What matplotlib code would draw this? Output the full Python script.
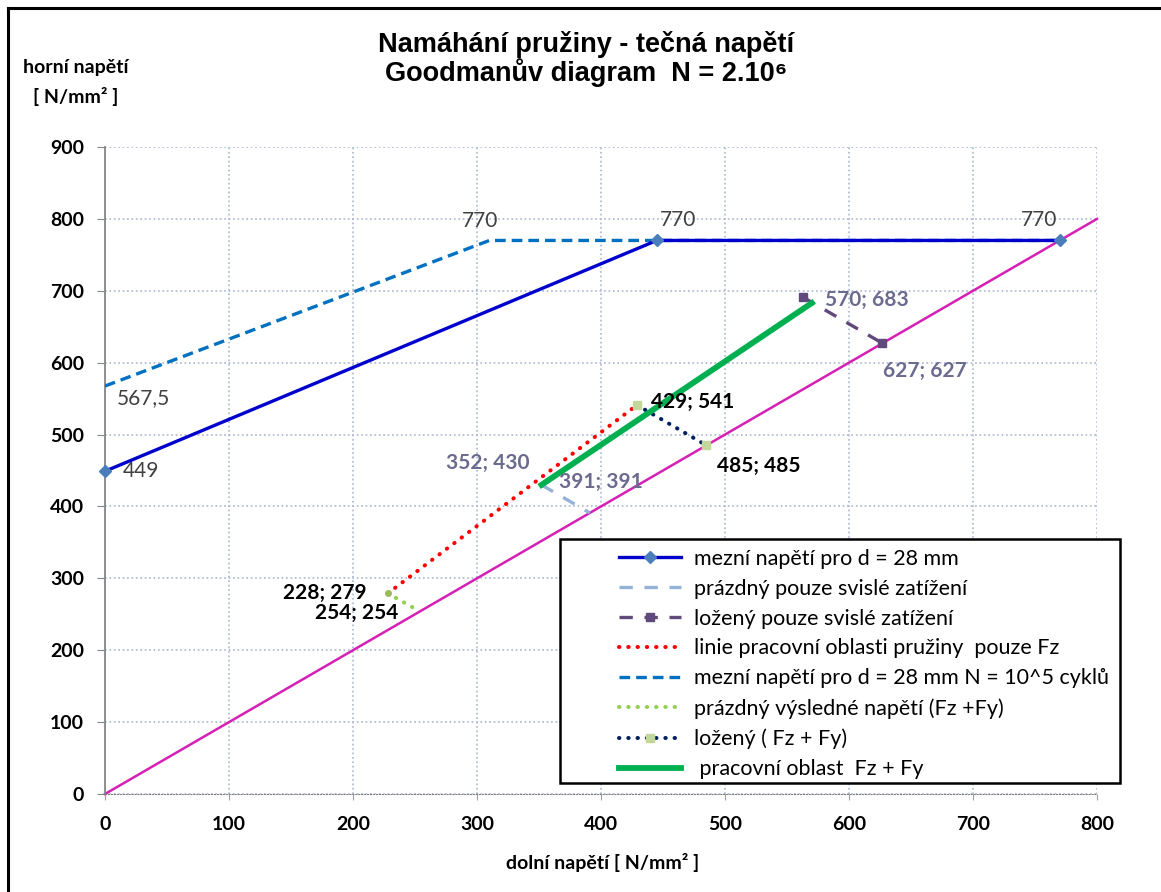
import matplotlib
matplotlib.use("Agg")
import matplotlib.pyplot as plt
from matplotlib.lines import Line2D
from matplotlib.patches import Rectangle

# Series values (dolní napětí, horní napětí) in N/mm^2
limit_x = [0, 445, 770]
limit_y = [449, 770, 770]

limit5_x = [0, 310, 770]
limit5_y = [567.5, 770, 770]

empty_vert_x = [352, 391]
empty_vert_y = [430, 391]

loaded_vert_x = [563, 627]
loaded_vert_y = [691, 627]

fz_line_x = [228, 429]
fz_line_y = [279, 541]

empty_res_x = [228, 254]
empty_res_y = [279, 254]

loaded_res_x = [429, 485]
loaded_res_y = [541, 485]

work_x = [352, 570]
work_y = [430, 683]

diag_x = [0, 800]
diag_y = [0, 800]

x_ticks = list(range(0, 801, 100))
y_ticks = list(range(0, 901, 100))

FONT = ['Lato', 'DejaVu Sans']
TITLE_FONT = ['Liberation Sans', 'DejaVu Sans']

fig = plt.figure(figsize=(11.61, 8.92), dpi=100)
W, H = 1161, 892


def fx(px):
    return px / W


def fy(py):
    return 1 - py / H


ax = fig.add_axes([fx(105), fy(794), fx(1097) - fx(105), fy(147) - fy(794)])
ax.set_xlim(0, 800)
ax.set_ylim(0, 900)
ax.set_xticks(x_ticks)
ax.set_yticks(y_ticks)
ax.grid(True, color='#a9b6cf', linestyle=':', linewidth=1.2)
ax.set_axisbelow(True)
for s in ['top', 'right']:
    ax.spines[s].set_visible(False)
ax.spines['left'].set_color('#868686')
ax.spines['left'].set_linewidth(1.3)
ax.spines['bottom'].set_color('#7f7f7f')
ax.spines['bottom'].set_linestyle(':')
ax.tick_params(axis='y', length=6, color='#868686', pad=9)
ax.tick_params(axis='x', length=4, color='#a0a0a0', pad=12)
for lab in ax.get_xticklabels() + ax.get_yticklabels():
    lab.set_fontfamily(FONT)
    lab.set_fontweight('bold')
    lab.set_fontsize(14)

# 45 degree line
ax.plot(diag_x, diag_y, color='#d61fb4', linewidth=1.8, zorder=2, clip_on=False)

dotted = (0, (0.1, 2.2))
h_limit5, = ax.plot(limit5_x, limit5_y, color='#0070c0', linewidth=2.4,
                    dashes=(3.2, 1.8), zorder=3)
h_limit, = ax.plot(limit_x, limit_y, color='#0000cc', linewidth=2.4,
                   marker='D', markersize=6.5, markerfacecolor='#4a7ebb',
                   markeredgecolor='#4a7ebb', zorder=4, clip_on=False)
h_empty_v, = ax.plot(empty_vert_x, empty_vert_y, color='#95b3d7', linewidth=2.4,
                     dashes=(4, 3.5), zorder=3)
h_loaded_v, = ax.plot(loaded_vert_x, loaded_vert_y, color='#604a7b', linewidth=2.4,
                      dashes=(4, 3.5), marker='s', markersize=6,
                      markerfacecolor='#604a7b', markeredgecolor='#604a7b', zorder=3)
h_fz, = ax.plot(fz_line_x, fz_line_y, color='#ff0000', linewidth=2.9,
                linestyle=dotted, dash_capstyle='round', zorder=3)
h_empty_r, = ax.plot(empty_res_x, empty_res_y, color='#92d050', linewidth=2.9,
                     linestyle=dotted, dash_capstyle='round', zorder=3)
h_loaded_r, = ax.plot(loaded_res_x, loaded_res_y, color='#002060', linewidth=2.9,
                      linestyle=dotted, dash_capstyle='round',
                      marker='s', markersize=6, markerfacecolor='#c3d69b',
                      markeredgecolor='#c3d69b', zorder=3)
h_work, = ax.plot(work_x, work_y, color='#00b050', linewidth=4.2, zorder=5)
ax.plot([empty_res_x[0]], [empty_res_y[0]], 'o', color='#9bbb59',
        markersize=4, zorder=4)

# data labels
plain = dict(fontfamily=FONT, fontsize=15, color='#404040')
slate = dict(fontfamily=FONT, fontsize=15, color='#6b6b8f', fontweight='bold')
dark = dict(fontfamily=FONT, fontsize=15, color='#000000', fontweight='bold')


def label(text, xy, off, ha, va, style):
    ax.annotate(text, xy=xy, xytext=(off[0] * 0.72, off[1] * 0.72),
                textcoords='offset points', ha=ha, va=va, zorder=6, **style)


label('770', (limit5_x[1], limit5_y[1]), (-9, 19), 'center', 'center', plain)
label('770', (limit_x[1], limit_y[1]), (21, 20), 'center', 'center', plain)
label('770', (limit_x[2], limit_y[2]), (-21, 20), 'center', 'center', plain)
label('567,5', (limit5_x[0], limit5_y[0]), (12, -12), 'left', 'center', plain)
label('449', (limit_x[0], limit_y[0]), (18, 0), 'left', 'center', plain)
label('352; 430', (empty_vert_x[0], empty_vert_y[0]), (-12, 22), 'right', 'center', slate)
label('391; 391', (empty_vert_x[1], empty_vert_y[1]), (-31, 31), 'left', 'center', slate)
label('570; 683', (work_x[1], work_y[1]), (13, 3), 'left', 'center', slate)
label('627; 627', (loaded_vert_x[1], loaded_vert_y[1]), (1, -28), 'left', 'center', slate)
label('429; 541', (loaded_res_x[0], loaded_res_y[0]), (14, 3), 'left', 'center', dark)
label('485; 485', (loaded_res_x[1], loaded_res_y[1]), (11, -21), 'left', 'center', dark)
label('228; 279', (empty_res_x[0], empty_res_y[0]), (-21, 0), 'right', 'center', dark)
label('254; 254', (empty_res_x[1], empty_res_y[1]), (-22, -2), 'right', 'center', dark)

# legend box and entries
fig.patches.append(Rectangle((fx(560), fy(783)), fx(1120) - fx(560), fy(539) - fy(783),
                             transform=fig.transFigure, facecolor='white',
                             edgecolor='black', linewidth=1.8, zorder=10))
handles = [h_limit, h_empty_v, h_loaded_v, h_fz, h_limit5, h_empty_r, h_loaded_r, h_work]
labels = ['mezní napětí pro d = 28 mm',
          'prázdný pouze svislé zatížení',
          'ložený pouze svislé zatížení',
          'linie pracovní oblasti pružiny  pouze Fz',
          'mezní napětí pro d = 28 mm N = 10^5 cyklů',
          'prázdný výsledné napětí (Fz +Fy)',
          'ložený ( Fz + Fy)',
          ' pracovní oblast  Fz + Fy']
leg = fig.legend(handles, labels, loc='upper left',
                 bbox_to_anchor=(fx(608), fy(538)), frameon=False,
                 prop={'family': FONT, 'size': 15.5}, handlelength=2.9,
                 handletextpad=0.6, labelspacing=0.46, borderpad=0)
leg.set_zorder(11)

# titles and axis labels
fig.text(fx(586), fy(45), 'Namáhání pružiny - tečná napětí', ha='center', va='center',
         fontfamily=TITLE_FONT, fontweight='bold', fontsize=19.5)
fig.text(fx(586), fy(73), 'Goodmanův diagram  N = 2.10⁶', ha='center', va='center',
         fontfamily=TITLE_FONT, fontweight='bold', fontsize=19.5)
fig.text(fx(76), fy(68), 'horní napětí', ha='center', va='center',
         fontfamily=FONT, fontweight='bold', fontsize=14)
fig.text(fx(76), fy(97), '[ N/mm² ]', ha='center', va='center',
         fontfamily=FONT, fontweight='bold', fontsize=14)
fig.text(fx(603), fy(862), 'dolní napětí [ N/mm² ]', ha='center', va='center',
         fontfamily=FONT, fontweight='bold', fontsize=14)

# outer frame
fig.add_artist(Line2D([fx(8), fx(8)], [0, fy(8)], transform=fig.transFigure,
                      color='black', linewidth=2.2))
fig.add_artist(Line2D([fx(8), 1], [fy(8), fy(8)], transform=fig.transFigure,
                      color='black', linewidth=2.2))

fig.savefig('out.png', dpi=100)
